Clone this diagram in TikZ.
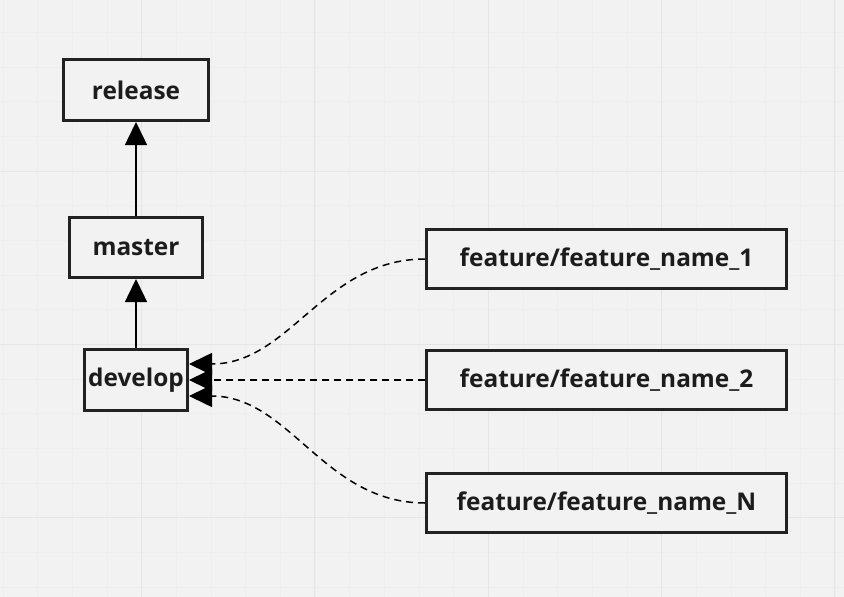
\documentclass[tikz,border=0pt]{standalone}
\usepackage{fontspec}
\setmainfont{Open Sans}
\usetikzlibrary{arrows.meta}
\definecolor{bg}{HTML}{F2F2F2}
\definecolor{gridminor}{HTML}{EEEEEE}
\definecolor{gridmajor}{HTML}{E5E5E5}
\definecolor{ink}{HTML}{222222}
\definecolor{txt}{HTML}{1C1C1C}
\begin{document}
\begin{tikzpicture}[x=1pt,y=-1pt,
  box/.style={draw=ink, line width=3pt, fill=bg, text=txt, inner sep=0pt,
    font=\bfseries\fontsize{24.4}{27}\selectfont},
  solidarrow/.style={line width=1.5pt, draw=black, -{Triangle[length=23pt,width=22pt]}},
  dasharrow/.style={line width=1.5pt, draw=black, dash pattern=on 7pt off 5pt,
    -{Triangle[length=23pt,width=22pt]}}]
\fill[bg] (0,0) rectangle (844,597);
\useasboundingbox (0,0) rectangle (844,597);
\foreach \k in {0,...,24} {
  \draw[gridminor, line width=0.8pt] ({3.1+34.66*\k},0) -- ({3.1+34.66*\k},597);
}
\foreach \k in {0,...,17} {
  \draw[gridminor, line width=0.8pt] (0,{-2.3+34.66*\k}) -- (844,{-2.3+34.66*\k});
}
\foreach \x in {141.5,314.8,488.1,661.4,834.7} {
  \draw[gridmajor, line width=1pt] (\x,0) -- (\x,597);
}
\foreach \y in {-2.3,171,344.3,517.6} {
  \draw[gridmajor, line width=1pt] (0,\y) -- (844,\y);
}
\node[box, minimum width=145pt, minimum height=61pt] (release) at (136,90) {release};
\node[box, minimum width=133pt, minimum height=60pt] (master) at (136,247.5) {master};
\node[box, minimum width=103pt, minimum height=61pt] (develop) at (136,380) {develop};
\node[box, minimum width=360pt, minimum height=59pt] (f1) at (606.5,259) {feature/feature\_name\_1};
\node[box, minimum width=360pt, minimum height=59pt] (f2) at (606.5,380) {feature/feature\_name\_2};
\node[box, minimum width=360pt, minimum height=59pt] (fN) at (606.5,503) {feature/feature\_name\_N};
\draw[solidarrow] (master) -- (release);
\draw[solidarrow] (develop) -- (master);
\draw[dasharrow] (f1.west) to[out=180,in=0] ([yshift=16pt]develop.east);
\draw[dasharrow] (f2.west) -- (develop.east);
\draw[dasharrow] (fN.west) to[out=180,in=0] ([yshift=-16pt]develop.east);
\end{tikzpicture}
\end{document}
